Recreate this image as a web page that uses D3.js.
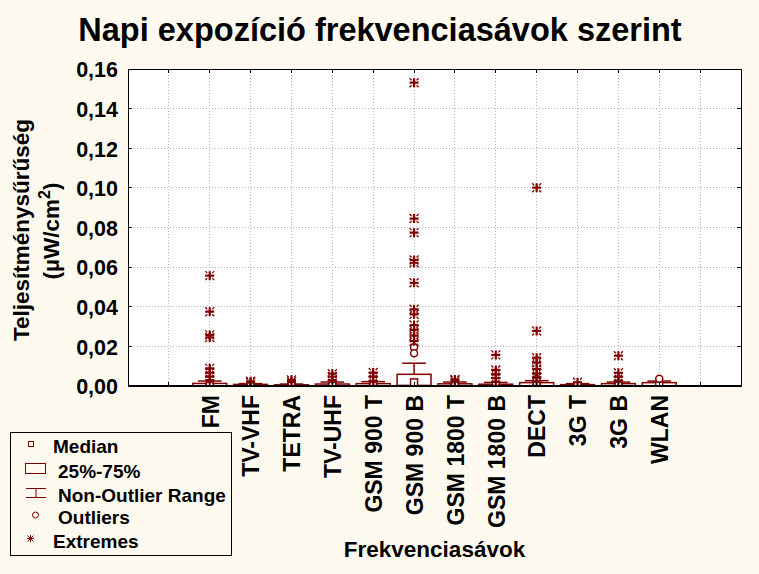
<!DOCTYPE html>
<html><head><meta charset="utf-8">
<script src="https://cdn.jsdelivr.net/npm/d3@7"></script>
<style>
body{margin:0;background:#fffaf0;}
svg{display:block;font-family:"Liberation Sans",Arial,sans-serif;font-weight:bold;}
</style></head><body>
<svg id="c" width="759" height="574"></svg>
<script>
// ---- data ----
const categories = ["FM","TV-VHF","TETRA","TV-UHF","GSM 900 T","GSM 900 B","GSM 1800 T","GSM 1800 B","DECT","3G T","3G B","WLAN"];
const medians    = [0.0002,0.0001,0.0001,0.0002,0.0002,0.0018,0.0002,0.0002,0.0003,0.0001,0.0002,0.0003];
const q1s        = [0.0001,0.0000,0.0000,0.0001,0.0001,0.0003,0.0001,0.0001,0.0001,0.0000,0.0001,0.0001];
const q3s        = [0.0013,0.0008,0.0006,0.0010,0.0012,0.0059,0.0011,0.0009,0.0017,0.0007,0.0012,0.0017];
const whiskerLow = [0,0,0,0,0,0,0,0,0,0,0,0];
const whiskerHigh= [0.0025,0.0012,0.0010,0.0020,0.0022,0.0115,0.0020,0.0018,0.0027,0.0012,0.0020,0.0025];
const outliers = [[],[],[],[],[],[0.0195,0.0165],[],[],[0.0035],[],[],[0.0037]];
const extremes = [
  [0.0557,0.0375,0.0258,0.0245,0.0089,0.0067,0.0047,0.0030],
  [0.0024,0.0017],
  [0.0031,0.0022],
  [0.0062,0.0048,0.0030],
  [0.0068,0.0047,0.0025],
  [0.1531,0.0845,0.0774,0.0636,0.0622,0.0521,0.0387,0.0362,0.0308,0.0283,0.0254,0.0226],
  [0.0033,0.0026],
  [0.0157,0.0081,0.0059,0.0039,0.0022],
  [0.1001,0.0278,0.0143,0.0118,0.0086,0.0063,0.0042,0.0025],
  [0.0019],
  [0.0153,0.0067,0.0047,0.0027],
  []
];
const yTicks = [0,0.02,0.04,0.06,0.08,0.10,0.12,0.14,0.16];
const legendLabels = ["Median","25%-75%","Non-Outlier Range","Outliers","Extremes"];
const title = "Napi expozíció frekvenciasávok szerint";
const yTitle1 = "Teljesítménysűrűség";
const yTitle2 = "(µW/cm";
const xTitle = "Frekvenciasávok";

// ---- layout ----
const W=759,H=574;
const P={left:128,right:741,top:69,bottom:386};
const RED="#800000";
const svg=d3.select("#c");
svg.append("rect").attr("width",W).attr("height",H).attr("fill","#fffaf0");

const slots=["L0","L1",...categories,"R1","R0"];
const x=d3.scalePoint().domain(slots).range([P.left,P.right]);
const y=d3.scaleLinear().domain([0,0.16]).range([P.bottom,P.top]);
const step=x.step();

svg.append("rect").attr("x",P.left).attr("y",P.top).attr("width",P.right-P.left).attr("height",P.bottom-P.top).attr("fill","#fff");
svg.append("clipPath").attr("id","clip").append("rect").attr("x",P.left).attr("y",P.top).attr("width",P.right-P.left).attr("height",P.bottom-P.top);

// grid
const gridX=slots.slice(1,-1);
const g=svg.append("g").attr("stroke","#b4b4b4").attr("stroke-width",1).attr("stroke-dasharray","1,2").attr("shape-rendering","crispEdges");
g.selectAll(".gx").data(gridX).join("line").attr("x1",d=>x(d)).attr("x2",d=>x(d)).attr("y1",P.top).attr("y2",P.bottom);
g.selectAll(".gy").data(yTicks.slice(1,-1)).join("line").attr("x1",P.left).attr("x2",P.right).attr("y1",d=>y(d)).attr("y2",d=>y(d));

// title
svg.append("text").attr("x",380).attr("y",41).attr("text-anchor","middle").attr("font-size",32.5).text(title);

// y axis labels
const ya=svg.append("g").attr("transform",`translate(${P.left},0)`)
  .call(d3.axisLeft(y).tickValues(yTicks).tickSize(0).tickPadding(10).tickFormat(d=>d.toFixed(2).replace(".",",")));
ya.select(".domain").remove();
ya.selectAll("text").attr("font-size",21.5).attr("font-family","Liberation Sans, Arial, sans-serif").attr("font-weight","bold").attr("fill","#000").attr("dy","0.36em");

// x axis labels
const xa=svg.append("g").attr("transform",`translate(0,${P.bottom})`)
  .call(d3.axisBottom(x).tickValues(categories).tickSize(0));
xa.select(".domain").remove();
xa.selectAll("text").attr("font-size",23).attr("font-family","Liberation Sans, Arial, sans-serif").attr("font-weight","bold").attr("fill","#000")
  .attr("text-anchor","end").attr("transform","rotate(-90)").attr("x",-9).attr("y",0).attr("dy","0.36em");

// axis titles
svg.append("text").attr("transform","translate(29,230) rotate(-90)").attr("text-anchor","middle").attr("font-size",22.5).text(yTitle1);
const t2=svg.append("text").attr("transform","translate(59,231) rotate(-90)").attr("text-anchor","middle").attr("font-size",22.5);
t2.append("tspan").text(yTitle2);
t2.append("tspan").attr("font-size",16).attr("dy",-9).text("2");
t2.append("tspan").attr("dy",9).text(")");
svg.append("text").attr("x",(P.left+P.right)/2).attr("y",557).attr("text-anchor","middle").attr("font-size",22.5).text(xTitle);

// boxes
const data=categories.map((c,i)=>({c,med:medians[i],q1:q1s[i],q3:q3s[i],lo:whiskerLow[i],hi:whiskerHigh[i],out:outliers[i],ext:extremes[i]}));
const bw=step*0.83, cw=step*0.58;
const plot=svg.append("g").attr("clip-path","url(#clip)");
const bx=plot.selectAll(".box").data(data).join("g").attr("transform",d=>`translate(${x(d.c)},0)`);
bx.append("line").attr("x1",0).attr("x2",0).attr("y1",d=>y(d.q3)).attr("y2",d=>y(d.hi)).attr("stroke",RED).attr("stroke-width",1.5);
bx.append("line").attr("x1",-cw/2).attr("x2",cw/2).attr("y1",d=>y(d.hi)).attr("y2",d=>y(d.hi)).attr("stroke",RED).attr("stroke-width",1.5);
bx.append("line").attr("x1",-cw/2).attr("x2",cw/2).attr("y1",d=>y(d.lo)).attr("y2",d=>y(d.lo)).attr("stroke",RED).attr("stroke-width",1.5);
bx.append("rect").attr("x",-bw/2).attr("width",bw).attr("y",d=>y(d.q3)).attr("height",d=>y(d.q1)-y(d.q3))
  .attr("fill","#fff").attr("stroke",RED).attr("stroke-width",1.5);
bx.append("rect").attr("x",-3.5).attr("width",7).attr("y",d=>y(d.med)-3.5).attr("height",7)
  .attr("fill","#fff").attr("stroke",RED).attr("stroke-width",1.5);
// outliers
bx.selectAll(".o").data(d=>d.out).join("circle").attr("cx",0).attr("cy",v=>y(v)).attr("r",3.5)
  .attr("fill","#fff").attr("stroke",RED).attr("stroke-width",1.5);
// extremes
const starPlus="M0,-4.5V4.5M-4.5,0H4.5";
const starDiag="M-4.5,-4.5L-2.5,-2.5M4.5,-4.5L2.5,-2.5M-4.5,4.5L-2.5,2.5M4.5,4.5L2.5,2.5";
const se=bx.selectAll(".e").data(d=>d.ext).join("g").attr("transform",v=>`translate(0,${y(v)})`);
se.append("path").attr("d",starPlus).attr("stroke",RED).attr("stroke-width",2.2).attr("fill","none");
se.append("path").attr("d",starDiag).attr("stroke",RED).attr("stroke-width",1.3).attr("fill","none");

// frame + inward ticks
const fr=svg.append("g").attr("stroke","#000").attr("stroke-width",1).attr("shape-rendering","crispEdges");
fr.append("rect").attr("x",P.left).attr("y",P.top).attr("width",P.right-P.left).attr("height",P.bottom-P.top).attr("fill","none");
fr.append("line").attr("x1",P.left).attr("x2",P.right).attr("y1",P.bottom).attr("y2",P.bottom).attr("stroke-width",2);
fr.selectAll(".tt").data(gridX).join("line").attr("x1",d=>x(d)).attr("x2",d=>x(d)).attr("y1",P.top).attr("y2",P.top+4);
fr.selectAll(".tb").data(gridX).join("line").attr("x1",d=>x(d)).attr("x2",d=>x(d)).attr("y1",P.bottom).attr("y2",P.bottom-4);
fr.selectAll(".tl").data(yTicks).join("line").attr("x1",P.left).attr("x2",P.left+4).attr("y1",d=>y(d)).attr("y2",d=>y(d));
fr.selectAll(".tr").data(yTicks).join("line").attr("x1",P.right).attr("x2",P.right-4).attr("y1",d=>y(d)).attr("y2",d=>y(d));

// legend
const L=svg.append("g");
L.append("rect").attr("x",10.5).attr("y",432.5).attr("width",221).attr("height",123).attr("fill","none").attr("stroke","#000");
const lys=[453,478,502,524,548];
const lxs=[53,58,58,58,53];
L.selectAll(".lt").data(legendLabels).join("text").attr("x",(d,i)=>lxs[i]).attr("y",(d,i)=>lys[i]).attr("font-size",19).text(d=>d);
L.append("rect").attr("x",28.5).attr("y",441.5).attr("width",5).attr("height",5).attr("fill","none").attr("stroke",RED);
L.append("rect").attr("x",25.5).attr("y",463.5).attr("width",20).attr("height",10).attr("fill","none").attr("stroke",RED);
L.append("path").attr("d","M26,488.5H46M36,488.5V497.5M26,497.5H46").attr("stroke",RED).attr("fill","none");
L.append("circle").attr("cx",35.5).attr("cy",515).attr("r",3).attr("fill","none").attr("stroke",RED);
L.append("path").attr("transform","translate(30.5,538.5)").attr("d","M0,-3.5V3.5M-3.5,0H3.5M-3,-3L3,3M-3,3L3,-3").attr("stroke",RED).attr("fill","none");
</script>
</body></html>
